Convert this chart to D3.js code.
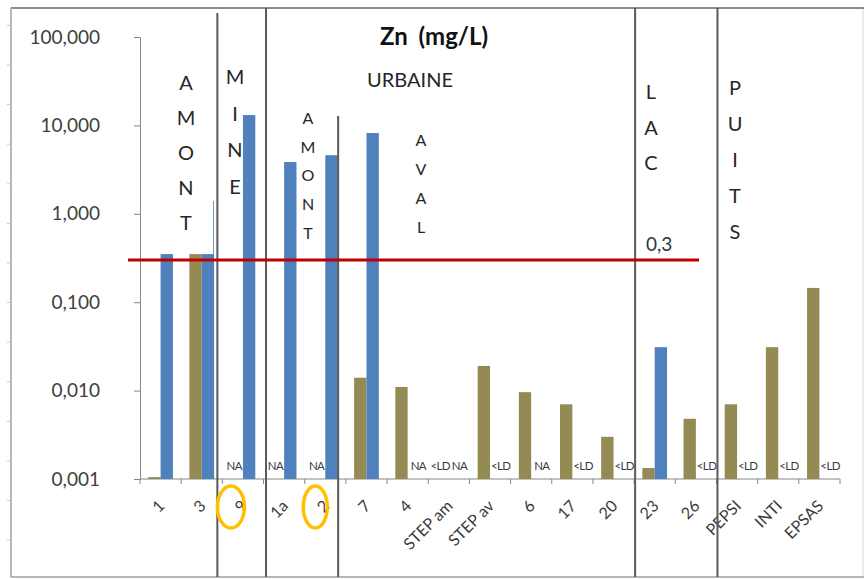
<!DOCTYPE html>
<html>
<head>
<meta charset="utf-8">
<script src="https://cdn.jsdelivr.net/npm/d3@7"></script>
<style>
  html, body { margin: 0; padding: 0; background: #ffffff; }
  svg { display: block; font-family: Lato, "Open Sans", sans-serif; }
</style>
</head>
<body>
<svg id="chart" width="864" height="579"></svg>
<script>
// Sampling sites along the x axis
const categories = ["1", "3", "9", "1a", "2", "7", "4", "STEP am", "STEP av", "6", "17", "20", "23", "26", "PEPSI", "INTI", "EPSAS"];

// Zn concentration (mg/L); null where the value is not available or below detection
const oliveValues = [0.00105, 0.35, null, null, null, 0.014, 0.011, null, 0.019, 0.0096, 0.007, 0.003, 0.00133, 0.0048, 0.007, 0.031, 0.145];
const oliveNotes  = ["", "", "NA", "NA", "NA", "", "", "<LD", "", "", "", "", "", "", "", "", ""];
const blueValues  = [0.35, 0.35, 13.1, 3.85, 4.6, 8.2, null, null, null, null, null, null, 0.031, null, null, null, null];
const blueNotes   = ["", "", "", "", "", "", "NA", "NA", "<LD", "NA", "<LD", "<LD", "", "<LD", "<LD", "<LD", "<LD"];

// Y axis ticks and their French-formatted labels
const tickValues = [0.001, 0.01, 0.1, 1, 10, 100];
const tickLabels = ["0,001", "0,010", "0,100", "1,000", "10,000", "100,000"];

// Guideline value
const threshold = 0.3;
const thresholdLabel = "0,3";

const svg = d3.select("#chart");

const x = d3.scaleBand().domain(categories).range([140, 840]).paddingInner(0).paddingOuter(0);
const bw = x.bandwidth();
const series = d3.scaleBand().domain(["olive", "blue"]).range([0.2 * bw, 0.8 * bw]);
const y = d3.scaleLog().domain([0.001, 100]).range([479, 37]);

const colors = { olive: "#948A54", blue: "#4F81BD" };

// Outer frame
svg.append("rect").attr("x", 11).attr("y", 8).attr("width", 852).attr("height", 569)
  .attr("fill", "none").attr("stroke", "#d6d6d6").attr("stroke-width", 1);
svg.append("line").attr("x1", 11).attr("x2", 864).attr("y1", 8).attr("y2", 8)
  .attr("stroke", "#8c8c8c").attr("stroke-width", 2);
svg.append("line").attr("x1", 11).attr("x2", 11).attr("y1", 8).attr("y2", 577)
  .attr("stroke", "#a6a6a6").attr("stroke-width", 1.5);
svg.append("line").attr("x1", 11).attr("x2", 864).attr("y1", 577).attr("y2", 577)
  .attr("stroke", "#a6a6a6").attr("stroke-width", 1.5);
// small ruler marks on the left edge of the frame
svg.append("g").selectAll("line").data(d3.range(25.4, 570, 39.6)).join("line")
  .attr("x1", 7).attr("x2", 11).attr("y1", d => d).attr("y2", d => d)
  .attr("stroke", "#c8c8c8").attr("stroke-width", 1);

// Y axis
const yAxis = d3.axisLeft(y).tickValues(tickValues)
  .tickFormat((d, i) => tickLabels[i]).tickSize(6).tickPadding(34);
const gy = svg.append("g").attr("transform", "translate(140,0)").call(yAxis);
gy.select(".domain").attr("stroke", "#868686");
gy.selectAll(".tick line").attr("stroke", "#868686");
gy.selectAll(".tick text").attr("fill", "#404040").attr("font-size", 19)
  .attr("font-family", "Lato, sans-serif");

// X axis: ticks on band boundaries
svg.append("line").attr("x1", 140).attr("x2", 840).attr("y1", y(0.001)).attr("y2", y(0.001))
  .attr("stroke", "#868686").attr("stroke-width", 1);
const boundaries = categories.map(c => x(c)).concat([x(categories[categories.length - 1]) + bw]);
svg.append("g").selectAll("line").data(boundaries).join("line")
  .attr("x1", d => d).attr("x2", d => d).attr("y1", y(0.001)).attr("y2", y(0.001) + 5)
  .attr("stroke", "#868686");

// Category labels, rotated
svg.append("g").selectAll("text").data(categories).join("text")
  .attr("transform", d => `translate(${x(d) + bw / 2 + 5},507) rotate(-45)`)
  .attr("text-anchor", "end").attr("font-size", 16).attr("fill", "#3a3a3a")
  .text(d => d);

// Bars
const barData = [];
categories.forEach((c, i) => {
  if (oliveValues[i] != null) barData.push({ cat: c, key: "olive", v: oliveValues[i] });
  if (blueValues[i] != null) barData.push({ cat: c, key: "blue", v: blueValues[i] });
});
svg.append("g").selectAll("rect").data(barData).join("rect")
  .attr("x", d => x(d.cat) + series(d.key))
  .attr("width", series.bandwidth())
  .attr("y", d => y(d.v))
  .attr("height", d => y(0.001) - y(d.v))
  .attr("fill", d => colors[d.key]);

// NA / <LD notes in place of missing bars
const noteData = [];
categories.forEach((c, i) => {
  if (oliveNotes[i]) noteData.push({ cat: c, key: "olive", t: oliveNotes[i] });
  if (blueNotes[i]) noteData.push({ cat: c, key: "blue", t: blueNotes[i] });
});
svg.append("g").selectAll("text").data(noteData).join("text")
  .attr("x", d => x(d.cat) + series(d.key) + series.bandwidth() / 2 + (d.key === "olive" ? -2.5 : 4.5))
  .attr("y", 470).attr("text-anchor", "middle")
  .attr("font-size", 11.5).attr("letter-spacing", -0.6).attr("fill", "#3a3a48")
  .text(d => d.t);

// stray thin line beside the site 3 bars
svg.append("line").attr("x1", 213.5).attr("x2", 213.5).attr("y1", 201).attr("y2", y(0.35))
  .attr("stroke", "#6f95c9").attr("stroke-width", 1);

// Section separators
const sepColor = "#5a5a5a";
const separators = [
  { x: x("9") - 5, top: 13 },
  { x: x("1a") + 2.5, top: 8 },
  { x: x("2") + series("blue") + series.bandwidth() + 0.5, top: 116 },
  { x: x("23") + 1, top: 8 },
  { x: x("PEPSI") + 1, top: 8 }
];
svg.append("g").selectAll("line").data(separators).join("line")
  .attr("x1", d => d.x).attr("x2", d => d.x).attr("y1", d => d.top).attr("y2", 577)
  .attr("stroke", sepColor).attr("stroke-width", 2);

// Guideline
svg.append("line").attr("x1", 128).attr("x2", 699).attr("y1", y(threshold)).attr("y2", y(threshold))
  .attr("stroke", "#C00000").attr("stroke-width", 3);
svg.append("text").attr("x", 646).attr("y", y(threshold) - 9)
  .attr("font-size", 19).attr("fill", "#2b3645").text(thresholdLabel);

// Title and section names
svg.append("text").attr("x", 434).attr("y", 45).attr("text-anchor", "middle")
  .attr("font-size", 24).attr("font-weight", "bold").attr("word-spacing", 5)
  .attr("fill", "#111").text("Zn (mg/L)");
svg.append("text").attr("x", 410).attr("y", 87).attr("text-anchor", "middle")
  .attr("font-size", 20).attr("fill", "#262626").text("URBAINE");

function verticalWord(word, cx, firstBaseline, step, size) {
  svg.append("g").selectAll("text").data(word.split("")).join("text")
    .attr("x", cx).attr("y", (d, i) => firstBaseline + i * step)
    .attr("text-anchor", "middle").attr("font-size", size).attr("fill", "#262626")
    .text(d => d);
}
verticalWord("AMONT", 186, 90, 35, 20);
verticalWord("MINE", 235, 84, 36.5, 20);
verticalWord("AMONT", 308, 124, 28.7, 16);
verticalWord("AVAL", 421, 146, 29, 16);
verticalWord("LAC", 651, 99, 35.5, 20);
verticalWord("PUITS", 735, 95, 36, 20);

// Highlight rings on two site labels
svg.append("g").selectAll("ellipse").data(["9", "2"]).join("ellipse")
  .attr("cx", d => x(d) + bw / 2 + (d === "9" ? -12 : -10))
  .attr("cy", 507)
  .attr("rx", d => d === "9" ? 13.5 : 12)
  .attr("ry", 21)
  .attr("fill", "none").attr("stroke", "#FFC000").attr("stroke-width", 3.5);
</script>
</body>
</html>
